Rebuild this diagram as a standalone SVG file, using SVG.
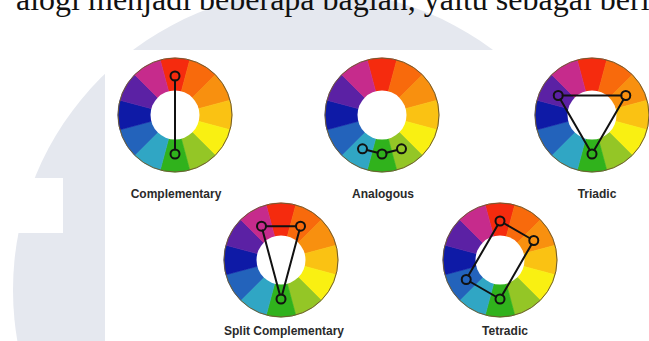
<svg xmlns="http://www.w3.org/2000/svg" xmlns:xlink="http://www.w3.org/1999/xlink" width="649" height="341" viewBox="0 0 649 341">
<style>
.lbl{font-family:"Liberation Sans",Arial,sans-serif;font-weight:bold;font-size:12px;fill:#2a2a2a;text-anchor:middle}
.top{font-family:"Liberation Serif","Times New Roman",serif;font-size:32px;fill:#111}
.mk{fill:none;stroke:#111;stroke-width:2}
.ln{stroke:#111;stroke-width:2;fill:none;stroke-linecap:round}
</style>
<defs>
<g id="wheel">
<path d="M0 0L-14.753 -55.058A57 57 0 0 1 14.753 -55.058Z" fill="#f52b0e" stroke="#f52b0e" stroke-width="0.6"/>
<path d="M0 0L14.753 -55.058A57 57 0 0 1 40.305 -40.305Z" fill="#f86a0c" stroke="#f86a0c" stroke-width="0.6"/>
<path d="M0 0L40.305 -40.305A57 57 0 0 1 55.058 -14.753Z" fill="#f8900f" stroke="#f8900f" stroke-width="0.6"/>
<path d="M0 0L55.058 -14.753A57 57 0 0 1 55.058 14.753Z" fill="#fac213" stroke="#fac213" stroke-width="0.6"/>
<path d="M0 0L55.058 14.753A57 57 0 0 1 40.305 40.305Z" fill="#f9f012" stroke="#f9f012" stroke-width="0.6"/>
<path d="M0 0L40.305 40.305A57 57 0 0 1 14.753 55.058Z" fill="#94c626" stroke="#94c626" stroke-width="0.6"/>
<path d="M0 0L14.753 55.058A57 57 0 0 1 -14.753 55.058Z" fill="#30b21c" stroke="#30b21c" stroke-width="0.6"/>
<path d="M0 0L-14.753 55.058A57 57 0 0 1 -40.305 40.305Z" fill="#30a6c4" stroke="#30a6c4" stroke-width="0.6"/>
<path d="M0 0L-40.305 40.305A57 57 0 0 1 -55.058 14.753Z" fill="#2363bb" stroke="#2363bb" stroke-width="0.6"/>
<path d="M0 0L-55.058 14.753A57 57 0 0 1 -55.058 -14.753Z" fill="#0e1aa6" stroke="#0e1aa6" stroke-width="0.6"/>
<path d="M0 0L-55.058 -14.753A57 57 0 0 1 -40.305 -40.305Z" fill="#5b21a4" stroke="#5b21a4" stroke-width="0.6"/>
<path d="M0 0L-40.305 -40.305A57 57 0 0 1 -14.753 -55.058Z" fill="#c62b8c" stroke="#c62b8c" stroke-width="0.6"/>
<circle r="24.5" fill="#fff"/>
<circle r="57" fill="none" stroke="#6e5a30" stroke-width="1"/>
</g>
</defs>
<rect width="649" height="341" fill="#fff"/>
<g id="watermark">
<circle cx="313" cy="290" r="300" fill="#e5e8ef"/>
<rect x="0" y="178" width="63" height="55" fill="#fff"/>
<rect x="105" y="50" width="544" height="291" fill="#fff"/>
</g>
<text class="top" x="16" y="10">alogi menjadi beberapa bagian, yaitu sebagai beri</text>
<g id="complementary">
<use xlink:href="#wheel" href="#wheel" x="175" y="115"/>
<circle class="mk" cx="175" cy="76" r="4.5"/>
<circle class="mk" cx="175" cy="154" r="4.5"/>
<text class="lbl" x="176" y="198">Complementary</text>
</g>
<g id="analogous">
<use xlink:href="#wheel" href="#wheel" x="382" y="115"/>
<circle class="mk" cx="362.5" cy="148.775" r="4.5"/>
<circle class="mk" cx="382" cy="154" r="4.5"/>
<circle class="mk" cx="401.5" cy="148.775" r="4.5"/>
<text class="lbl" x="383" y="198">Analogous</text>
</g>
<g id="triadic">
<use xlink:href="#wheel" href="#wheel" x="592" y="115"/>
<circle class="mk" cx="558.225" cy="95.5" r="4.5"/>
<circle class="mk" cx="625.775" cy="95.5" r="4.5"/>
<circle class="mk" cx="592" cy="154" r="4.5"/>
<text class="lbl" x="597" y="198">Triadic</text>
</g>
<g id="split-complementary">
<use xlink:href="#wheel" href="#wheel" x="281" y="260"/>
<circle class="mk" cx="261.5" cy="226.225" r="4.5"/>
<circle class="mk" cx="300.5" cy="226.225" r="4.5"/>
<circle class="mk" cx="281" cy="299" r="4.5"/>
<text class="lbl" x="284" y="335">Split Complementary</text>
</g>
<g id="tetradic">
<use xlink:href="#wheel" href="#wheel" x="500" y="260"/>
<circle class="mk" cx="500" cy="221" r="4.5"/>
<circle class="mk" cx="533.775" cy="240.5" r="4.5"/>
<circle class="mk" cx="500" cy="299" r="4.5"/>
<circle class="mk" cx="466.225" cy="279.5" r="4.5"/>
<text class="lbl" x="505" y="335">Tetradic</text>
</g>
<g id="connectors">
<line class="ln" x1="175" y1="80.5" x2="175" y2="149.5"/>
<line class="ln" x1="366.85" y1="149.94" x2="377.65" y2="152.84"/>
<line class="ln" x1="386.35" y1="152.84" x2="397.15" y2="149.94"/>
<line class="ln" x1="562.725" y1="95.5" x2="621.275" y2="95.5"/>
<line class="ln" x1="623.525" y1="99.397" x2="594.25" y2="150.103"/>
<line class="ln" x1="589.75" y1="150.103" x2="560.475" y2="99.397"/>
<line class="ln" x1="266" y1="226.225" x2="296" y2="226.225"/>
<line class="ln" x1="299.335" y1="230.572" x2="282.165" y2="294.653"/>
<line class="ln" x1="279.835" y1="294.653" x2="262.665" y2="230.572"/>
<line class="ln" x1="503.897" y1="223.25" x2="529.878" y2="238.25"/>
<line class="ln" x1="531.525" y1="244.397" x2="502.25" y2="295.103"/>
<line class="ln" x1="496.103" y1="296.75" x2="470.122" y2="281.75"/>
<line class="ln" x1="468.475" y1="275.603" x2="497.75" y2="224.897"/>
</g>
</svg>
